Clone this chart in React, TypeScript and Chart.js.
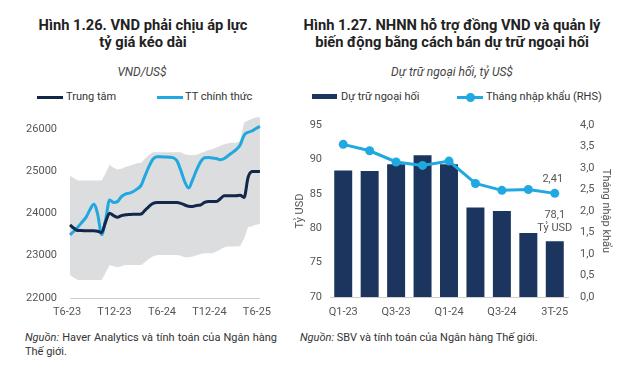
import React, { useEffect, useRef } from 'react';
import { Chart, registerables } from 'chart.js';

Chart.register(...registerables);

// ---------- Left chart data (semi-monthly observations, Jun-23 .. Jun-25) ----------
const MONTHS = [
  'T6-23', 'T7-23', 'T8-23', 'T9-23', 'T10-23', 'T11-23', 'T12-23',
  'T1-24', 'T2-24', 'T3-24', 'T4-24', 'T5-24', 'T6-24', 'T7-24', 'T8-24',
  'T9-24', 'T10-24', 'T11-24', 'T12-24', 'T1-25', 'T2-25', 'T3-25', 'T4-25',
  'T5-25', 'T6-25',
];
const LEFT_TICKS = ['T6-23', 'T12-23', 'T6-24', 'T12-24', 'T6-25'];
const LEFT_Y_TICKS = [22000, 23000, 24000, 25000, 26000];

const CENTRAL = [
  23730, 23650, 23595, 23595, 23590, 23590, 23590, 23580, 23550, 23800,
  24005, 23950, 23910, 23950, 23967, 23975, 23980, 23980, 23985, 24080,
  24170, 24240, 24260, 24260, 24260, 24260, 24260, 24260, 24240, 24200,
  24170, 24165, 24190, 24200, 24260, 24283, 24283, 24283, 24350, 24417,
  24417, 24417, 24420, 24430, 24380, 24850, 24990, 24995, 24993,
];
const OFFICIAL = [
  23493, 23580, 23680, 23790, 23900, 24080, 24220, 23980, 23500, 23850,
  24320, 24260, 24280, 24400, 24460, 24480, 24520, 24580, 24670, 24900,
  25120, 25290, 25340, 25340, 25335, 25330, 25320, 25250, 25020, 24750,
  24600, 24800, 25030, 25220, 25320, 25325, 25310, 25300, 25270, 25300,
  25370, 25440, 25510, 25620, 25850, 25920, 25950, 26010, 26060,
];
const BAND_HIGH = [
  24890, 24830, 24780, 24780, 24780, 24780, 24780, 24780, 24780, 24950,
  25150, 25080, 25040, 25060, 25100, 25130, 25160, 25190, 25200, 25300,
  25390, 25445, 25450, 25450, 25450, 25450, 25450, 25450, 25450, 25400,
  25380, 25380, 25390, 25430, 25460, 25500, 25520, 25560, 25600, 25640,
  25660, 25670, 25670, 25720, 26150, 26200, 26240, 26270, 26280,
];
const BAND_LOW = [
  22545, 22480, 22427, 22427, 22427, 22427, 22427, 22427, 22427, 22600,
  22780, 22750, 22725, 22750, 22780, 22780, 22780, 22780, 22780, 22850,
  22930, 22990, 23020, 23020, 23020, 23020, 23020, 23020, 23000, 22964,
  22964, 22980, 23010, 23040, 23057, 23057, 23057, 23100, 23150, 23200,
  23216, 23216, 23216, 23230, 23400, 23680, 23700, 23730, 23753,
];

// ---------- Right chart data ----------
const QUARTERS = ['Q1-23', 'Q2-23', 'Q3-23', 'Q4-23', 'Q1-24', 'Q2-24', 'Q3-24', 'Q4-24', '3T-25'];
const QUARTER_TICKS = ['Q1-23', 'Q3-23', 'Q1-24', 'Q3-24', '3T-25'];
const RESERVES = [88.4, 88.3, 89.3, 90.6, 89.3, 83.0, 82.5, 79.3, 78.1];
const IMPORT_MONTHS = [3.55, 3.40, 3.14, 3.06, 3.16, 2.64, 2.48, 2.50, 2.41];

const NAVY = '#12284b';
const BAR_NAVY = '#1c355e';
const SKY = '#20a8e0';
const BAND = '#dcdddf';
const TICK = '#555555';
const FONT = 'Roboto, "Noto Sans", sans-serif';

const comma = (v: number, d: number) => v.toFixed(d).replace('.', ',');

export default function App() {
  const leftRef = useRef<HTMLCanvasElement | null>(null);
  const rightRef = useRef<HTMLCanvasElement | null>(null);

  useEffect(() => {
    Chart.defaults.font.family = FONT;
    const halfMonths: string[] = MONTHS.flatMap((m, i) =>
      i < MONTHS.length - 1 ? [m, m + ' (2)'] : [m]
    );

    const left = new Chart(leftRef.current as HTMLCanvasElement, {
      type: 'line',
      data: {
        labels: halfMonths,
        datasets: [
          {
            label: 'Trung tâm',
            data: CENTRAL,
            borderColor: NAVY,
            borderWidth: 3,
            pointRadius: 0,
            cubicInterpolationMode: 'monotone',
            fill: false,
          },
          {
            label: 'TT chính thức',
            data: OFFICIAL,
            borderColor: SKY,
            borderWidth: 3,
            pointRadius: 0,
            cubicInterpolationMode: 'monotone',
            fill: false,
          },
          {
            label: 'band-high',
            data: BAND_HIGH,
            borderWidth: 0,
            borderColor: 'rgba(0,0,0,0)',
            backgroundColor: BAND,
            pointRadius: 0,
            tension: 0,
            fill: '+1',
          },
          {
            label: 'band-low',
            data: BAND_LOW,
            borderWidth: 0,
            borderColor: 'rgba(0,0,0,0)',
            pointRadius: 0,
            tension: 0,
            fill: false,
          },
        ],
      },
      options: {
        responsive: false,
        animation: false,
        layout: { padding: { top: 20, right: 18, left: 0, bottom: 0 } },
        plugins: { legend: { display: false }, tooltip: { enabled: false } },
        scales: {
          x: {
            type: 'category',
            grid: { display: false, drawTicks: false },
            border: { display: true, color: '#cfcfcf', width: 1 },
            ticks: {
              autoSkip: false,
              maxRotation: 0,
              padding: 8,
              labelOffset: -3,
              color: TICK,
              font: { size: 11 },
              callback: function (this: any, value: any) {
                const lab = this.getLabelForValue(value);
                return LEFT_TICKS.includes(lab) ? lab : '';
              },
            },
            afterFit: (s: any) => { s.height = 32; },
          },
          y: {
            type: 'linear',
            min: 22000,
            max: 26400,
            grid: { display: false, drawTicks: false },
            border: { display: false },
            afterBuildTicks: (s: any) => {
              s.ticks = LEFT_Y_TICKS.map((v) => ({ value: v }));
            },
            ticks: {
              autoSkip: false,
              padding: 13,
              color: TICK,
              font: { size: 11 },
              callback: (v: any) => String(v),
            },
            afterFit: (s: any) => { s.width = 70; },
          },
        },
      },
    });

    const annot = {
      id: 'annot',
      afterDatasetsDraw(chart: any) {
        const ctx = chart.ctx;
        const barMeta = chart.getDatasetMeta(0);
        const lineMeta = chart.getDatasetMeta(1);
        const lb = barMeta.data[barMeta.data.length - 1];
        const ll = lineMeta.data[lineMeta.data.length - 1];
        ctx.save();
        ctx.fillStyle = TICK;
        ctx.font = '11px ' + FONT;
        ctx.textAlign = 'center';
        ctx.textBaseline = 'middle';
        ctx.fillText(comma(IMPORT_MONTHS[IMPORT_MONTHS.length - 1], 2), ll.x - 2, ll.y - 14);
        ctx.fillText(comma(RESERVES[RESERVES.length - 1], 1), lb.x, lb.y - 26);
        ctx.fillText('Tỷ USD', lb.x, lb.y - 13);
        ctx.restore();
      },
    };

    const right = new Chart(rightRef.current as HTMLCanvasElement, {
      type: 'bar',
      data: {
        labels: QUARTERS,
        datasets: [
          {
            type: 'bar',
            label: 'Dự trữ ngoại hối',
            data: RESERVES,
            backgroundColor: BAR_NAVY,
            barPercentage: 0.68,
            categoryPercentage: 1,
            yAxisID: 'y',
            order: 1,
          },
          {
            type: 'line',
            label: 'Tháng nhập khẩu (RHS)',
            data: IMPORT_MONTHS,
            borderColor: SKY,
            backgroundColor: SKY,
            borderWidth: 3,
            pointRadius: 4.5,
            pointBackgroundColor: SKY,
            pointBorderWidth: 0,
            tension: 0,
            yAxisID: 'y1',
            order: 0,
          } as any,
        ],
      },
      options: {
        responsive: false,
        animation: false,
        layout: { padding: { top: 20, right: 0, left: 0, bottom: 0 } },
        plugins: { legend: { display: false }, tooltip: { enabled: false } },
        scales: {
          x: {
            grid: { display: false, drawTicks: false },
            border: { display: true, color: '#cfcfcf', width: 1 },
            ticks: {
              autoSkip: false,
              maxRotation: 0,
              padding: 9,
              color: TICK,
              font: { size: 11 },
              callback: function (this: any, value: any) {
                const lab = this.getLabelForValue(value);
                return QUARTER_TICKS.includes(lab) ? lab : '';
              },
            },
            afterFit: (s: any) => { s.height = 33; },
          },
          y: {
            position: 'left',
            min: 70,
            max: 95,
            grid: { display: false, drawTicks: false },
            border: { display: false },
            title: {
              display: true,
              text: 'Tỷ USD',
              color: TICK,
              font: { size: 11 },
              padding: { top: 4, bottom: 0 },
            },
            ticks: { stepSize: 5, autoSkip: false, padding: 8, color: TICK, font: { size: 11 } },
            afterFit: (s: any) => { s.width = 40; },
          },
          y1: {
            position: 'right',
            min: 0,
            max: 4,
            grid: { display: false, drawTicks: false },
            border: { display: false },
            title: {
              display: true,
              text: 'Tháng nhập khẩu',
              color: TICK,
              font: { size: 11 },
              padding: { top: 9, bottom: 0 },
            },
            ticks: {
              stepSize: 0.5,
              autoSkip: false,
              padding: 12,
              color: TICK,
              font: { size: 11 },
              callback: (v: any) => comma(Number(v), 1),
            },
            afterFit: (s: any) => { s.width = 53; },
          },
        },
      },
      plugins: [annot],
    });

    return () => {
      left.destroy();
      right.destroy();
    };
  }, []);

  const title: React.CSSProperties = {
    position: 'absolute',
    top: 17,
    fontFamily: FONT,
    fontWeight: 700,
    fontSize: 14.7,
    lineHeight: '17px',
    color: '#222',
    textAlign: 'center',
    whiteSpace: 'nowrap',
  };
  const sub: React.CSSProperties = {
    position: 'absolute',
    top: 64,
    fontFamily: FONT,
    fontStyle: 'italic',
    fontSize: 12,
    lineHeight: '16px',
    color: '#444',
    textAlign: 'center',
  };
  const legText: React.CSSProperties = {
    position: 'absolute',
    top: 90,
    fontFamily: FONT,
    fontSize: 11,
    lineHeight: '14px',
    color: '#333',
    whiteSpace: 'nowrap',
  };
  const note: React.CSSProperties = {
    position: 'absolute',
    top: 331,
    fontFamily: FONT,
    fontSize: 11,
    lineHeight: '14px',
    color: '#333',
  };

  return (
    <div style={{ position: 'absolute', left: 0, top: 0, width: 621, height: 370, background: '#fff', overflow: 'hidden' }}>
      <div style={{ ...title, left: 0, width: 286 }}>
        <div>Hình 1.26. VND phải chịu áp lực</div>
        <div>tỷ giá kéo dài</div>
      </div>
      <div style={{ ...title, left: 300, width: 304 }}>
        <div>Hình 1.27. NHNN hỗ trợ đồng VND và quản lý</div>
        <div>biến động bằng cách bán dự trữ ngoại hối</div>
      </div>
      <div style={{ ...sub, left: 42, width: 200 }}>VND/US$</div>
      <div style={{ ...sub, left: 352, width: 200 }}>Dự trữ ngoại hối, tỷ US$</div>

      {/* left legend */}
      <div style={{ position: 'absolute', left: 37, top: 96, width: 26, height: 3, background: NAVY }} />
      <div style={{ ...legText, left: 66 }}>Trung tâm</div>
      <div style={{ position: 'absolute', left: 157, top: 96, width: 26, height: 3, background: SKY }} />
      <div style={{ ...legText, left: 185 }}>TT chính thức</div>

      {/* right legend */}
      <div style={{ position: 'absolute', left: 312, top: 94, width: 25, height: 5, background: BAR_NAVY }} />
      <div style={{ ...legText, left: 341 }}>Dự trữ ngoại hối</div>
      <div style={{ position: 'absolute', left: 457, top: 96, width: 26, height: 3, background: SKY }} />
      <div style={{ position: 'absolute', left: 466, top: 93, width: 9, height: 9, borderRadius: '50%', background: SKY }} />
      <div style={{ ...legText, left: 486 }}>Tháng nhập khẩu (RHS)</div>

      <canvas ref={leftRef} width={282} height={238} style={{ position: 'absolute', left: 0, top: 92, width: 282, height: 238 }} />
      <canvas ref={rightRef} width={331} height={225} style={{ position: 'absolute', left: 290, top: 105, width: 331, height: 225 }} />

      <div style={{ ...note, left: 25, width: 252, textAlign: 'justify', textAlignLast: 'left' as any }}>
        <i>Nguồn:</i> Haver Analytics và tính toán của Ngân hàng Thế giới.
      </div>
      <div style={{ ...note, left: 300, width: 320, whiteSpace: 'nowrap' }}>
        <i>Nguồn:</i> SBV và tính toán của Ngân hàng Thế giới.
      </div>
    </div>
  );
}
